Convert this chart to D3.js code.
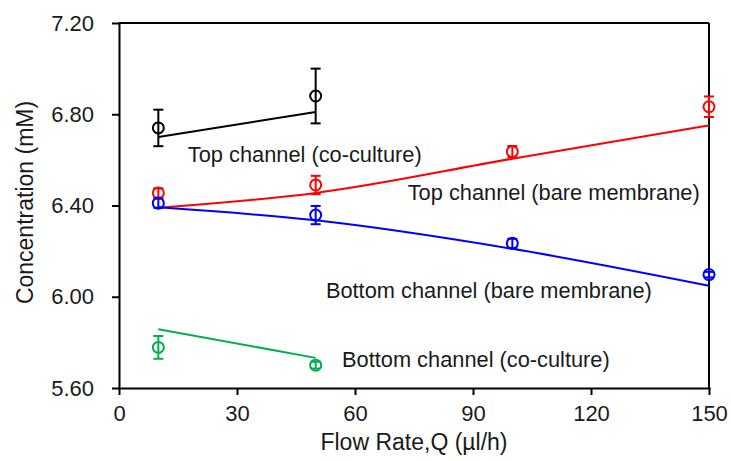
<!DOCTYPE html>
<meta charset="utf-8">
<style>

body { margin: 0; background: #fff; }
svg { font-family: "Liberation Sans", Arial, sans-serif; }
.axis path, .axis line { stroke: #000; stroke-width: 2px; }
.axis text { font-size: 22px; fill: #1a1a1a; }
.title { font-size: 23px; fill: #1a1a1a; }
.note { font-size: 21.8px; fill: #1a1a1a; }

</style>
<body>

<script src="https://cdn.jsdelivr.net/npm/d3@7"></script>
<script>

    // flow rates where measurements were taken
    var flowRates = [10, 50, 100, 150];

    // measured concentrations (mM) and their error bars
    var topCoculture = [6.74, 6.88];
    var topCocultureErr = [0.08, 0.12];
    var topBare = [6.455, 6.49, 6.636, 6.833];
    var topBareErr = [0.02, 0.04, 0.025, 0.045];
    var bottomBare = [6.41, 6.358, 6.234, 6.097];
    var bottomBareErr = [0.02, 0.04, 0.02, 0.012];
    var bottomCoculture = [5.778, 5.70];
    var bottomCocultureErr = [0.05, 0.015];

    // model lines
    var topCocultureFit = [6.70, 6.81];
    var topBareFit = [6.39, 6.455, 6.605, 6.751];
    var bottomBareFit = [6.392, 6.335, 6.21, 6.048];
    var bottomCocultureFit = [5.858, 5.732];

    var xTicks = [0, 30, 60, 90, 120, 150];
    var yTicks = [5.6, 6.0, 6.4, 6.8, 7.2];

    // label text and where it sits, in data units
    var labels = ["Top channel (co-culture)", "Top channel (bare membrane)",
                  "Bottom channel (bare membrane)", "Bottom channel (co-culture)"];
    var labelX = [17.5, 73.4, 52.6, 56.7];
    var labelY = [6.592, 6.425, 5.995, 5.694];

    var margin = {top: 23, right: 22, bottom: 73, left: 119},
        width = 731 - margin.left - margin.right,
        height = 461 - margin.top - margin.bottom;

    var x = d3.scaleLinear().domain([0, 150]).range([0, width]);
    var y = d3.scaleLinear().domain([5.6, 7.2]).range([height, 0]);

    var svg = d3.select("body").append("svg")
        .attr("width", 731)
        .attr("height", 461)
        .append("g")
        .attr("transform", "translate(" + margin.left + "," + margin.top + ")");

    // frame on top and right
    svg.append("line")
        .attr("x1", 0).attr("x2", width)
        .attr("y1", 0).attr("y2", 0)
        .attr("stroke", "#000").attr("stroke-width", 2);
    svg.append("line")
        .attr("x1", width).attr("x2", width)
        .attr("y1", 0).attr("y2", height)
        .attr("stroke", "#000").attr("stroke-width", 2);

    // axes
    svg.append("g")
        .attr("class", "axis")
        .attr("transform", "translate(0," + height + ")")
        .call(d3.axisBottom(x).tickValues(xTicks).tickSize(7).tickSizeOuter(0)
            .tickPadding(10).tickFormat(d3.format("d")));

    svg.append("g")
        .attr("class", "axis")
        .call(d3.axisLeft(y).tickValues(yTicks).tickSize(7).tickSizeOuter(0)
            .tickPadding(18).tickFormat(d3.format(".2f")));

    svg.selectAll(".axis .domain").attr("stroke-linecap", "square");

    // axis titles
    svg.append("text")
        .attr("class", "title")
        .attr("text-anchor", "middle")
        .attr("x", width / 2)
        .attr("y", height + 62)
        .text("Flow Rate,Q (\u00b5l/h)");

    svg.append("text")
        .attr("class", "title")
        .attr("text-anchor", "middle")
        .attr("transform", "translate(" + (33 - margin.left) + "," + (height / 2 - 3) + ") rotate(-90)")
        .text("Concentration (mM)");

    var line = d3.line()
        .x(function (d) { return x(d[0]); })
        .y(function (d) { return y(d[1]); })
        .curve(d3.curveMonotoneX);

    function drawSeries(vals, errs, fit, color) {
        var pts = vals.map(function (v, i) { return [flowRates[i], v, errs[i]]; });
        var fitPts = fit.map(function (v, i) { return [flowRates[i], v]; });

        svg.append("path")
            .datum(fitPts)
            .attr("d", line)
            .attr("fill", "none")
            .attr("stroke", color)
            .attr("stroke-width", 2);

        var g = svg.append("g");
        var eb = g.selectAll(".eb").data(pts).enter().append("g");
        eb.append("line")
            .attr("x1", function (d) { return x(d[0]); })
            .attr("x2", function (d) { return x(d[0]); })
            .attr("y1", function (d) { return y(d[1] - d[2]); })
            .attr("y2", function (d) { return y(d[1] + d[2]); })
            .attr("stroke", color).attr("stroke-width", 2);
        [-1, 1].forEach(function (s) {
            eb.append("line")
                .attr("x1", function (d) { return x(d[0]) - 5; })
                .attr("x2", function (d) { return x(d[0]) + 5; })
                .attr("y1", function (d) { return y(d[1] + s * d[2]); })
                .attr("y2", function (d) { return y(d[1] + s * d[2]); })
                .attr("stroke", color).attr("stroke-width", 2);
        });
        eb.append("circle")
            .attr("cx", function (d) { return x(d[0]); })
            .attr("cy", function (d) { return y(d[1]); })
            .attr("r", 5.5)
            .attr("fill", "none")
            .attr("stroke", color)
            .attr("stroke-width", 2);
    }

    drawSeries(topCoculture, topCocultureErr, topCocultureFit, "#000000");
    drawSeries(topBare, topBareErr, topBareFit, "#ff0000");
    drawSeries(bottomBare, bottomBareErr, bottomBareFit, "#0000ff");
    drawSeries(bottomCoculture, bottomCocultureErr, bottomCocultureFit, "#00b050");

    // series labels
    svg.selectAll(".note")
        .data(labels)
        .enter().append("text")
        .attr("class", "note")
        .attr("x", function (d, i) { return x(labelX[i]); })
        .attr("y", function (d, i) { return y(labelY[i]); })
        .text(function (d) { return d; });

</script>
</body>
